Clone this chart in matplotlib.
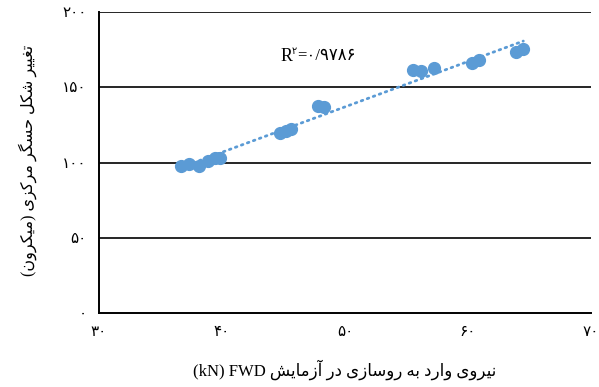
import matplotlib
matplotlib.use("Agg")
import matplotlib.pyplot as plt
import numpy as np

# applied FWD load (kN) and centre-sensor deflection (micron)
load_kn = [36.7, 37.3, 38.1, 38.9, 39.4, 39.8,
           44.7, 45.2, 45.6, 47.8, 48.3,
           55.5, 56.2, 57.2, 60.3, 60.9, 63.9, 64.5]
deflection = [98.0, 99.3, 98.0, 101.3, 102.7, 103.3,
              119.3, 120.7, 122.0, 137.3, 136.7,
              161.3, 160.7, 162.7, 166.0, 168.0, 173.3, 175.3]

x_ticks = [30, 40, 50, 60, 70]
y_ticks = [0, 50, 100, 150, 200]
r2_text = "=۰/۹۷۸۶"

xlabel_fa = "نیروی وارد به روسازی در آزمایش"
ylabel_fa = "تغییر شکل حسگر مرکزی (میکرون)"

# minimal persian shaping (matplotlib has no complex text layout)
FORMS = {
    "ا": ("\uFE8D", "\uFE8E", None, None),
    "آ": ("\uFE81", "\uFE82", None, None),
    "ب": ("\uFE8F", "\uFE90", "\uFE91", "\uFE92"),
    "ت": ("\uFE95", "\uFE96", "\uFE97", "\uFE98"),
    "ح": ("\uFEA1", "\uFEA2", "\uFEA3", "\uFEA4"),
    "د": ("\uFEA9", "\uFEAA", None, None),
    "ر": ("\uFEAD", "\uFEAE", None, None),
    "ز": ("\uFEAF", "\uFEB0", None, None),
    "س": ("\uFEB1", "\uFEB2", "\uFEB3", "\uFEB4"),
    "ش": ("\uFEB5", "\uFEB6", "\uFEB7", "\uFEB8"),
    "غ": ("\uFECD", "\uFECE", "\uFECF", "\uFED0"),
    "ل": ("\uFEDD", "\uFEDE", "\uFEDF", "\uFEE0"),
    "م": ("\uFEE1", "\uFEE2", "\uFEE3", "\uFEE4"),
    "ن": ("\uFEE5", "\uFEE6", "\uFEE7", "\uFEE8"),
    "ه": ("\uFEE9", "\uFEEA", "\uFEEB", "\uFEEC"),
    "و": ("\uFEED", "\uFEEE", None, None),
    "ی": ("\uFBFC", "\uFBFD", "\uFBFE", "\uFBFF"),
    "ک": ("\uFB8E", "\uFB8F", "\uFB90", "\uFB91"),
    "گ": ("\uFB92", "\uFB93", "\uFB94", "\uFB95"),
}
MIRROR = {"(": ")", ")": "("}


def shape(text):
    out = []
    n = len(text)
    for i, ch in enumerate(text):
        if ch not in FORMS:
            out.append(MIRROR.get(ch, ch))
            continue
        iso, fin, ini, med = FORMS[ch]
        prev = text[i - 1] if i > 0 else ""
        nxt = text[i + 1] if i < n - 1 else ""
        join_prev = prev in FORMS and FORMS[prev][2] is not None
        join_next = nxt in FORMS and ini is not None
        if join_prev and join_next:
            out.append(med)
        elif join_prev:
            out.append(fin)
        elif join_next:
            out.append(ini)
        else:
            out.append(iso)
    return "".join(reversed(out))


def fa_digits(v):
    return str(v).translate(str.maketrans("0123456789", "۰۱۲۳۴۵۶۷۸۹"))


blue = "#5B9BD5"
fonts = ["Liberation Serif", "DejaVu Sans"]

fig = plt.figure(figsize=(5.99, 3.87), dpi=100)
ax = fig.add_axes([0.1653, 0.1912, 0.8213, 0.7778])

ax.plot(load_kn, deflection, "o", color=blue, ms=8.5, zorder=3)

# linear trendline over the data range
k, b = np.polyfit(load_kn, deflection, 1)
xs = np.array([min(load_kn), max(load_kn)])
ax.plot(xs, k * xs + b, color=blue, lw=2.0, linestyle=(0, (0.6, 1.7)),
        dash_capstyle="round", zorder=2)

ax.set_xlim(30, 70)
ax.set_ylim(0, 200)
ax.set_xticks(x_ticks)
ax.set_yticks(y_ticks)
ax.set_xticklabels([fa_digits(v) for v in x_ticks], family=fonts, fontsize=11)
ax.set_yticklabels([fa_digits(v) for v in y_ticks], family=fonts, fontsize=11)
ax.tick_params(length=0, pad=9)

for y in y_ticks[1:]:
    ax.axhline(y, color="black", lw=1.2, zorder=1)
for side in ["top", "right"]:
    ax.spines[side].set_visible(False)
for side in ["left", "bottom"]:
    ax.spines[side].set_linewidth(1.4)

# R² label: R, small persian 2, then value
t_r = ax.text(0.368, 0.853, "R", transform=ax.transAxes, ha="left",
              va="center", fontsize=13, family=fonts)
ax.annotate("۲", xy=(1, 0.75), xycoords=t_r, ha="left", va="center",
            fontsize=7, family=fonts)
ax.annotate(r2_text, xy=(1, 0.5), xycoords=t_r, xytext=(3.5, 0),
            textcoords="offset points", ha="left", va="center",
            fontsize=12, family=fonts)

fig.text(0.576, 0.045, "(kN) FWD " + shape(xlabel_fa), ha="center",
         va="center", fontsize=12, family=fonts)
fig.text(0.047, 0.585, shape(ylabel_fa), ha="center", va="center",
         rotation=90, fontsize=11.5, family=fonts)

fig.savefig("out.png", dpi=100)
